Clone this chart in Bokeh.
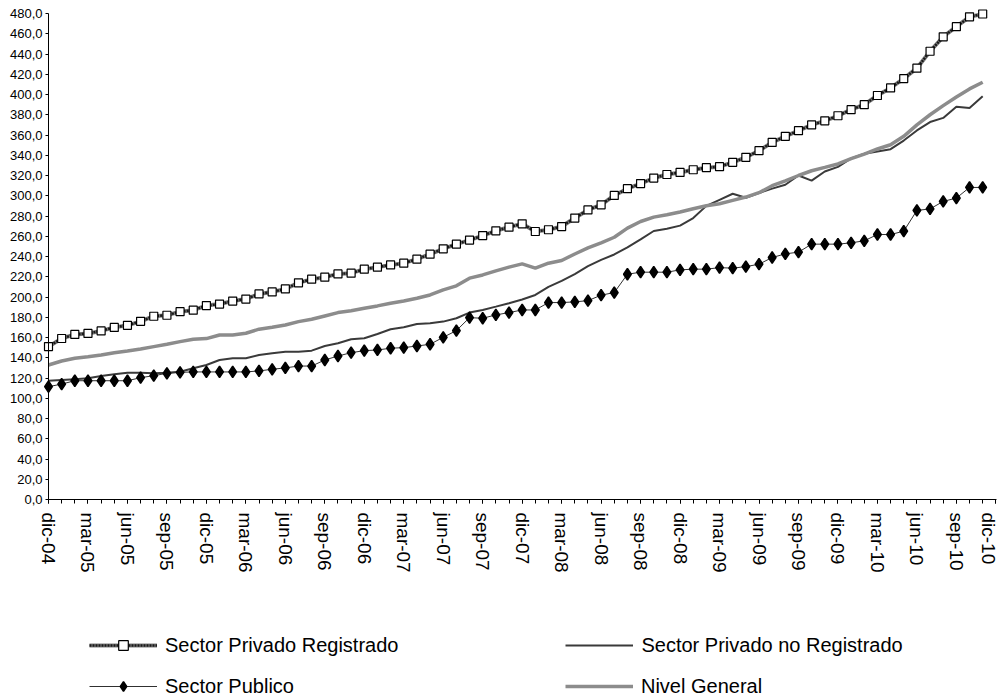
import math
from bokeh.plotting import figure
from bokeh.models import FixedTicker, Legend, LegendItem, Range1d
from bokeh.embed import file_html
from bokeh.resources import INLINE

# Monthly index values, dic-04 .. nov-10
sector_privado_registrado = [
    151, 159, 163, 164, 166.5, 170, 172, 176, 181, 182, 185.5, 187, 191.5, 193, 196, 198, 203, 205, 208,
    214, 217.6, 219.6, 222.8, 223.5, 227.5, 229.5, 231.7, 233.4, 237.4, 242.3, 247.6, 252.2, 256.2, 260.7, 265.4, 269, 272.3,
    264.7, 266.4, 269.6, 278, 286, 291, 300.3, 307, 312, 317.5, 321, 323, 325.7, 327.7, 328.7, 333, 338, 344.5,
    352.7, 358.7, 364.3, 370, 374, 379, 385, 390, 399, 406.5, 415.7, 426, 442.7, 457, 467, 476.7, 479.5,
]
sector_privado_no_registrado = [
    117.3, 118, 118.7, 119.7, 122, 123.6, 125.2, 125.2, 124.6, 125.2, 126.2, 129.6, 132.8, 137.8, 139.5, 139.5, 142.7, 144.4, 146, 146, 147, 151.6, 154.3,
    158.3, 159.2, 163.5, 168.2, 170.1, 173.4, 174.1, 175.7, 179, 184.6, 187.2, 190.5, 193.9, 197.5, 202, 210, 216, 222.7, 230.4, 236.7, 242, 249, 257, 265.2,
    267.5, 270.5, 278, 290, 296, 302, 298, 302.7, 307, 310.9, 320, 315, 324, 328.5, 336.8, 341.5, 343.8, 346, 354.5, 364.5, 372.8, 376.9, 388, 386.7, 398.2,
]
sector_publico = [
    111.4, 114, 117.3, 117.3, 117.3, 117.3, 117.3, 120.3, 122.3, 124.6, 125.6, 126, 126, 126, 126, 126, 127, 128.6, 130, 131.8, 131.8, 137.8, 141.7,
    145, 147, 147.7, 149.4, 150, 151.6, 153.3, 160.2, 166.8, 179.6, 179, 182.3, 184.6, 187.2, 187.2, 194.5, 194.5, 195.2, 196.4, 201.8, 204.4, 222.5, 224.5, 224.5, 224.5,
    226.8, 227.5, 227.5, 229, 228.5, 230, 232.4, 239, 242.6, 244.3, 252.2, 252.2, 252.2, 253.5, 255.5, 261.7, 261.7, 265, 285.5, 287, 294.4, 297.7, 308.2, 308.2,
]
nivel_general = [
    132.8, 136.8, 139.5, 141, 142.7, 145, 146.7, 148.7, 151, 153.3, 155.9, 158.3, 158.9, 162.5, 162.5, 164.2, 168.2, 170.1, 172.4, 175.7, 178, 181.3, 184.6,
    186.5, 188.9, 191.2, 193.9, 196.1, 198.8, 202, 207, 211, 218.6, 221.8, 225.8, 229.5, 232.7, 228.5, 233.4, 236, 242.5, 248.5, 253.5, 259, 268,
    274.6, 278.9, 281.2, 283.9, 287.1, 290.1, 292.1, 295.4, 298.7, 303, 309.9, 314.8, 320, 324.7, 328, 331.4, 336.6, 341.2, 346.2, 350.4, 358.7, 370, 380, 389, 397.6, 405.5, 412.1,
]

x_tick_labels = [
    "dic-04", "mar-05", "jun-05", "sep-05", "dic-05", "mar-06", "jun-06", "sep-06", "dic-06",
    "mar-07", "jun-07", "sep-07", "dic-07", "mar-08", "jun-08", "sep-08", "dic-08", "mar-09",
    "jun-09", "sep-09", "dic-09", "mar-10", "jun-10", "sep-10", "dic-10",
]
y_tick_values = [0, 20, 40, 60, 80, 100, 120, 140, 160, 180, 200, 220, 240, 260, 280, 300,
                 320, 340, 360, 380, 400, 420, 440, 460, 480]
y_tick_labels = ["0,0", "20,0", "40,0", "60,0", "80,0", "100,0", "120,0", "140,0", "160,0", "180,0",
                 "200,0", "220,0", "240,0", "260,0", "280,0", "300,0", "320,0", "340,0", "360,0",
                 "380,0", "400,0", "420,0", "440,0", "460,0", "480,0"]

months = list(range(len(sector_privado_registrado)))
n_categories = 3 * (len(x_tick_labels) - 1)
x_end = n_categories + 0.05
y_max = y_tick_values[-1]

FONT = "Liberation Sans"

# The frame covers the whole canvas; both axes are pinned at 0 and bounded,
# so tick labels and the legend sit inside the frame without being clipped.
W, H = 998, 698
PLOT_L, PLOT_T, PLOT_W, PLOT_H = 48, 13, 948, 486
px_x = PLOT_W / x_end
px_y = PLOT_H / y_max
x_lo = -PLOT_L / px_x
x_hi = x_end + (W - PLOT_L - PLOT_W) / px_x
y_hi = y_max + PLOT_T / px_y
y_lo = -(H - PLOT_T - PLOT_H) / px_y

p = figure(width=W, height=H, output_backend="svg", toolbar_location=None,
           x_range=Range1d(x_lo, x_hi), y_range=Range1d(y_lo, y_hi),
           min_border_left=0, min_border_top=0, min_border_right=0, min_border_bottom=0)
p.outline_line_color = None
p.xgrid.visible = False
p.ygrid.visible = False
p.background_fill_color = "white"
p.border_fill_color = "white"

# X axis (pinned at value 0)
xa = p.xaxis[0]
xa.fixed_location = 0
xa.bounds = (0, x_end)
xa.ticker = FixedTicker(ticks=list(range(0, n_categories + 1, 3)),
                        minor_ticks=list(range(0, n_categories + 1)))
xa.major_label_overrides = {i * 3: lab for i, lab in enumerate(x_tick_labels)}
xa.major_label_orientation = -math.pi / 2
xa.major_tick_in = 0
xa.major_tick_out = 4
xa.minor_tick_in = 0
xa.minor_tick_out = 4
xa.axis_line_color = "black"
xa.major_tick_line_color = "black"
xa.minor_tick_line_color = "black"
xa.major_label_text_font = FONT
xa.major_label_text_font_size = "19px"
xa.major_label_text_color = "black"
xa.major_label_standoff = 9

# Y axis (pinned at first category)
ya = p.yaxis[0]
ya.fixed_location = 0
ya.bounds = (0, y_max)
ya.ticker = FixedTicker(ticks=y_tick_values, minor_ticks=[])
ya.major_label_overrides = {v: lab for v, lab in zip(y_tick_values, y_tick_labels)}
ya.major_tick_in = 0
ya.major_tick_out = 3
ya.minor_tick_line_color = None
ya.axis_line_color = "black"
ya.major_tick_line_color = "black"
ya.major_label_text_font = FONT
ya.major_label_text_font_size = "13px"
ya.major_label_text_color = "black"
ya.major_label_standoff = 3

# Series
r_spr_base = p.line(months, sector_privado_registrado, line_color="#808080", line_width=4)
r_spr_dash = p.line(months, sector_privado_registrado, line_color="#1a1a1a", line_width=2.5, line_dash="2 1")
r_spr_mk = p.scatter(months, sector_privado_registrado, marker="square", size=8,
                     fill_color="white", line_color="black", line_width=1.2)

r_spnr = p.line(months, sector_privado_no_registrado, line_color="#3a3a3a", line_width=2)

r_sp_line = p.line(months, sector_publico, line_color="#303030", line_width=1)
r_sp_mk = p.scatter(months, sector_publico, marker="diamond", size=11.5,
                    fill_color="black", line_color="black", line_width=1.5)

r_ng = p.line(months, nivel_general, line_color="#8c8c8c", line_width=3.5)

leg_row1 = Legend(items=[
    LegendItem(label="Sector Privado Registrado", renderers=[r_spr_base, r_spr_dash, r_spr_mk]),
    LegendItem(label="Sector Privado no Registrado", renderers=[r_spnr]),
], location=(89, 41), spacing=167)
leg_row2 = Legend(items=[
    LegendItem(label="Sector Publico", renderers=[r_sp_line, r_sp_mk]),
    LegendItem(label="Nivel General", renderers=[r_ng]),
], location=(89, 0), spacing=271)

for leg in (leg_row1, leg_row2):
    leg.orientation = "horizontal"
    leg.glyph_width = 68
    leg.glyph_height = 24
    leg.label_height = 24
    leg.padding = 0
    leg.margin = 0
    leg.label_standoff = 8
    leg.border_line_color = None
    leg.background_fill_alpha = 0
    leg.label_text_font = FONT
    leg.label_text_font_size = "20px"
    leg.label_text_color = "black"
    p.add_layout(leg, "center")

open("out.html", "w").write(file_html(p, INLINE))
